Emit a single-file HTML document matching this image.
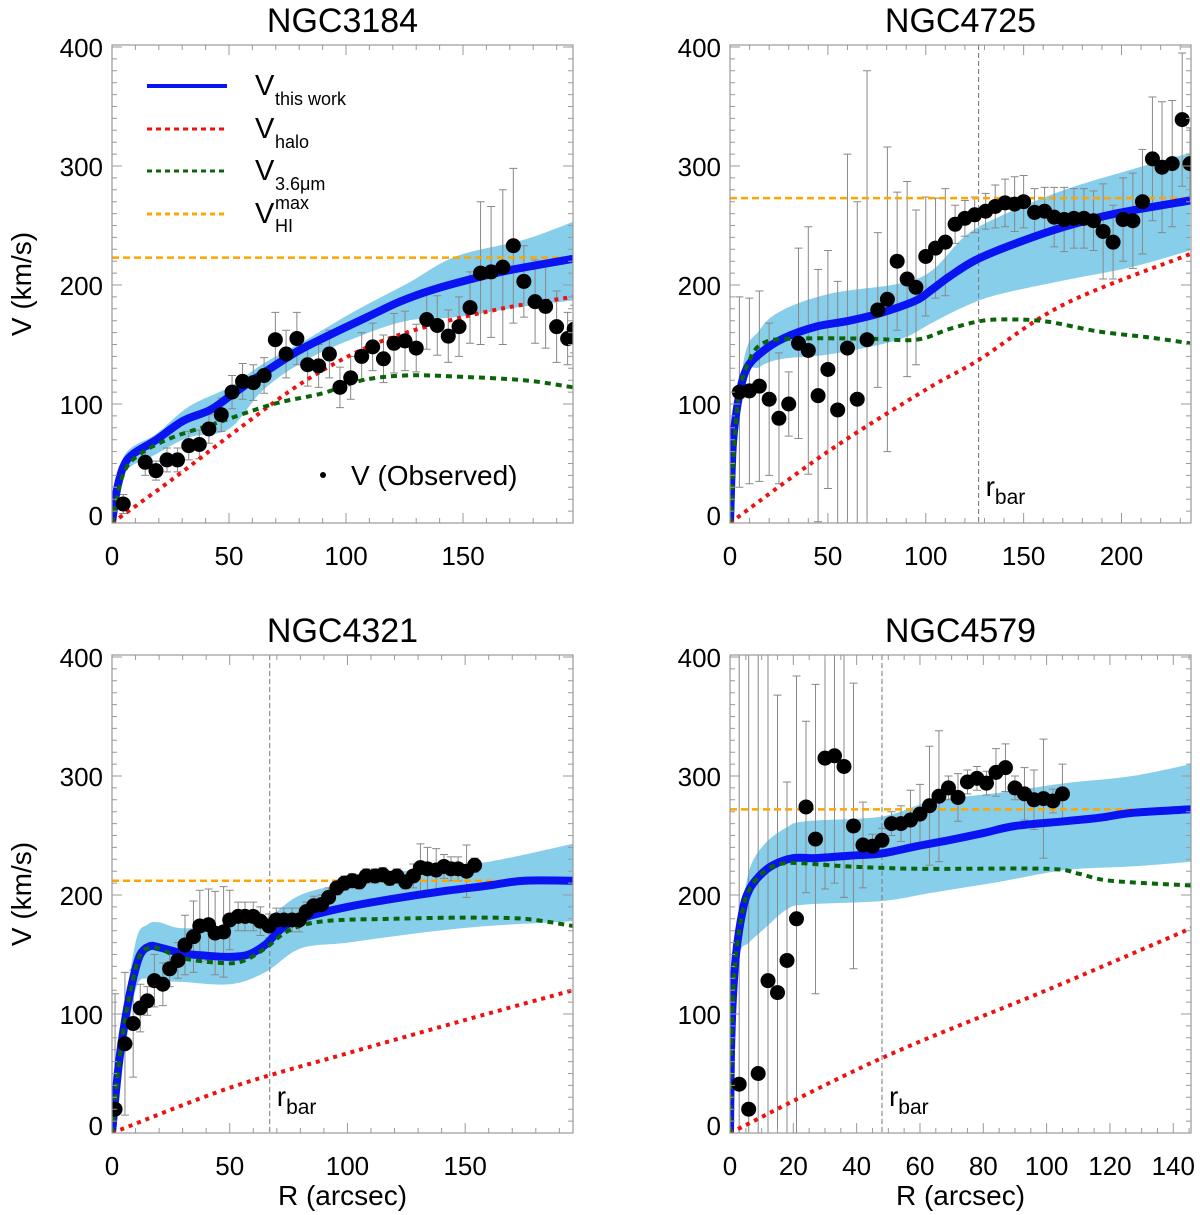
<!DOCTYPE html>
<html><head><meta charset="utf-8"><style>
html,body{margin:0;padding:0;background:#fff}
svg{display:block;font-family:"Liberation Sans",Arial,sans-serif}
</style></head><body>
<svg id="fig" width="1200" height="1215" viewBox="0 0 1200 1215" xmlns="http://www.w3.org/2000/svg"></svg>
<script>
// ---------- NGC3184 ----------
const p1R=[4.8,14.2,18.8,23.5,28,32.8,37.3,41.4,46.7,51.3,55.8,60.4,65,69.8,74.4,79,83.6,88.3,92.9,97.4,102,106.7,111.4,116,120.5,125.2,130,134.5,139,143.7,148.3,153,157.5,162,167,171.5,176,180.8,185.3,190,194.7,197.5];
const p1V=[16,51,44,53,53,65,66,79,91,110,119,118,124,154,142,155,133,132,142,114,122,140,148,138,151,153,147,171,166,157,165,181,210,211,215,233,203,186,182,165,155,163];
const p1E=[8,11,8,10,10,12,12,12,14,14,15,15,15,23,20,22,18,18,20,17,18,20,20,20,25,25,20,25,25,22,25,30,60,55,65,65,30,35,35,30,22,20];
const p1BlueR=[0,2,4.8,9,19,30.5,42,52,64.7,79,93,109,123,137,151.6,168.7,197];
const p1BlueV=[0,27,47,58,70,86,95,109,126,144,158,173,186,196,204,212,222];
const p1BandR=[0,4.8,19,33,50,64.7,83,104.6,126,147,176,197];
const p1BandHi=[0,55,75,98,114,134,154,179,201,224,238,253];
const p1BandLo=[0,41,58,72,79,112,137,156,170,173,182,187];
const p1GreenR=[0,4.8,12,26,44.7,69,90,107,126,147,176,197];
const p1GreenV=[0,41,58,72,84,100,109,120,124,123,120,114];
const p1RedR=[0,26,54.7,83,111.7,140,168.7,197];
const p1RedV=[0,37,80,120,150,168,181,190];
const p1HI=223;
// ---------- NGC4725 ----------
const p2R=[4.8,9.9,15,20,25,30,35,40,45,50,55,60,65,70,75.5,80.4,85.4,90.5,95,100,105,110,115,120,125,130.6,135.5,140.5,145.4,150,155.6,160.7,165.6,170.7,175.7,180.8,185.7,190.6,195.7,200.8,205.8,210.7,215.8,220.7,225.9,231,235];
const p2V=[110,111,115,104,88,100,151,145,107,129,95,147,104,154,179,188,220,205,198,224,231,236,251,256,259,262,266,269,268,270,261,262,257,255,256,256,254,245,236,255,254,270,306,299,302,339,302];
const p2E=[80,78,80,64,55,27,80,104,106,100,108,163,166,226,65,128,58,82,65,50,42,45,16,15,15,15,18,20,23,22,20,20,25,27,25,25,25,40,31,35,40,44,52,55,53,56,30];
const p2BlueR=[0,1.4,3.9,8,15,27,44,61,78,95,103,112,125.5,146,171,197,235];
const p2BlueV=[0,64,100,128,142,155,165,170,177,187,196,207,221,235,249,260,271];
const p2BandR=[0,6.5,15,27,52,86,103,120,137,171,205,235];
const p2BandHi=[0,131,162,179,193,201,212,241,257,280,297,311];
const p2BandLo=[0,117,131,138,142,154,168,182,192,204,215,229];
const p2GreenR=[0,3.9,10,18,35,69,95,112,129,146,163,188,214,235];
const p2GreenV=[0,100,137,152,155,155,154,163,170,171,169,161,156,151];
const p2RedR=[0,50,100,127,171,235];
const p2RedV=[0,60,112,137,184,226];
const p2HI=273;
const p2Bar=127;
// ---------- NGC4321 ----------
const p3R=[1.3,5.5,9,12,15,18,21.6,24.5,28,31,34.6,37.3,41,43.8,47.4,50,53.6,56.5,60,63,66.7,69.8,73,76.5,79.5,82.5,85.7,89,92,95.5,98.7,102,105,108,111.7,115,118,121,124.7,128,131,134,137.7,141,144,147,150.6,154];
const p3V=[20,75,92,105,111,128,125,138,145,158,165,174,175,168,169,179,182,182,182,178,174,179,179,179,179,186,191,192,198,206,210,212,211,216,216,217,214,216,211,216,223,222,221,224,222,222,220,225];
const p3E=[97,60,45,20,12,22,18,15,15,25,30,30,30,35,38,25,12,12,12,12,10,10,10,10,10,8,8,8,8,6,6,6,6,6,6,6,6,6,6,10,20,18,18,10,10,10,22,6];
const p3BlueR=[0,3,6,9,12,16,20,30,40,50,58,65,70,75,85,100,120,140,160,175,195.8];
const p3BlueV=[0,60,100,130,150,157,156,151,149,148,150,158,168,176,183,190,197,203,208,212,212];
const p3BandR=[0,4,10,15,20,30,50,65,80,100,130,160,195.8];
const p3BandHi=[0,80,160,175,177,172,175,180,200,210,222,228,243];
const p3BandLo=[0,50,120,130,128,127,125,135,155,160,168,174,178];
const p3GreenR=[0,3,6,9,12,16,20,30,45,55,65,75,90,120,150,175,195.8];
const p3GreenV=[0,60,100,130,150,156,155,147,143,144,155,170,178,180,181,180,174];
const p3RedR=[0,50,100,150,195.8];
const p3RedV=[0,38,67,95,120];
const p3HI=212;
const p3Bar=67;
// ---------- NGC4579 ----------
const p4R=[2.9,5.9,8.9,12,15,18,21,24,27,30,33,36,39,42,45,48,51,54,57,60,63,66,69,72,75,78,81,84,87,90,93,96,99,102,105];
const p4V=[41,20,50,128,118,145,180,274,247,315,317,308,258,242,241,246,260,260,263,268,275,283,290,282,295,298,294,303,307,290,285,280,281,279,285];
const p4E=[400,400,400,400,250,150,204,72,130,110,107,110,120,36,10,10,10,15,25,25,50,55,10,20,10,10,10,20,20,10,22,25,50,10,25];
const p4BlueR=[0,0.3,0.8,1.9,4,6,9.3,13.5,20,27,37.7,48,59,69,80,90,106,117,127,145.6];
const p4BlueV=[0,65,107,150,187,204,216,225,231,231,233,235,241,246,252,258,262,265,269,272];
const p4BandR=[0,0.8,3,6,11,18,24,48,64,85,106,127,145.6];
const p4BandHi=[0,136,172,220,243,257,262,266,279,286,294,300,310];
const p4BandLo=[0,100,150,160,172,188,192,195,202,211,221,224,228];
const p4GreenR=[0,0.3,0.8,1.9,4,6,9.3,13.5,20,37,60,100,110,120,145.6];
const p4GreenV=[0,65,107,150,187,204,216,224,227,224,222,222,218,212,208];
const p4RedR=[0,48,100,145.6];
const p4RedV=[0,63,120,172];
const p4HI=272;
const p4Bar=48;

const yTicks=[0,100,200,300,400];
const xTicksA=[0,50,100,150];
const xTicksB=[0,50,100,150,200];
const xTicksC=[0,20,40,60,80,100,120,140];

const NS="http://www.w3.org/2000/svg";
const svg=document.getElementById('fig');
function mk(tag,attrs,parent){const e=document.createElementNS(NS,tag);for(const k in attrs)e.setAttribute(k,attrs[k]);(parent||svg).appendChild(e);return e;}
function crPath(pts){
  if(pts.length<2)return '';
  let d='M'+pts[0][0].toFixed(1)+','+pts[0][1].toFixed(1);
  for(let i=0;i<pts.length-1;i++){
    const p0=pts[i-1]||pts[i],p1=pts[i],p2=pts[i+1],p3=pts[i+2]||p2;
    const c1=[p1[0]+(p2[0]-p0[0])/6,p1[1]+(p2[1]-p0[1])/6];
    const c2=[p2[0]-(p3[0]-p1[0])/6,p2[1]-(p3[1]-p1[1])/6];
    d+='C'+c1[0].toFixed(1)+','+c1[1].toFixed(1)+' '+c2[0].toFixed(1)+','+c2[1].toFixed(1)+' '+p2[0].toFixed(1)+','+p2[1].toFixed(1);
  }
  return d;
}

const panels=[
 {key:'ngc3184',title:'NGC3184',L:112,R:573,B:523,Y4:47,T:45,xmax:197,xt:xTicksA,minor:10,pr:p1R,pv:p1V,pe:p1E,br:p1BlueR,bv:p1BlueV,sr:p1BandR,sh:p1BandHi,sl:p1BandLo,gr:p1GreenR,gv:p1GreenV,rr:p1RedR,rv:p1RedV,hi:p1HI,bar:null,ylab:true,xlab:false},
 {key:'ngc4725',title:'NGC4725',L:730,R:1191,B:523,Y4:47,T:45,xmax:235.5,xt:xTicksB,minor:10,pr:p2R,pv:p2V,pe:p2E,br:p2BlueR,bv:p2BlueV,sr:p2BandR,sh:p2BandHi,sl:p2BandLo,gr:p2GreenR,gv:p2GreenV,rr:p2RedR,rv:p2RedV,hi:p2HI,bar:p2Bar,ylab:false,xlab:false},
 {key:'ngc4321',title:'NGC4321',L:112,R:573,B:1133,Y4:657,T:655,xmax:195.8,xt:xTicksA,minor:10,pr:p3R,pv:p3V,pe:p3E,br:p3BlueR,bv:p3BlueV,sr:p3BandR,sh:p3BandHi,sl:p3BandLo,gr:p3GreenR,gv:p3GreenV,rr:p3RedR,rv:p3RedV,hi:p3HI,bar:p3Bar,ylab:true,xlab:true},
 {key:'ngc4579',title:'NGC4579',L:730,R:1191,B:1133,Y4:657,T:655,xmax:145.6,xt:xTicksC,minor:5,pr:p4R,pv:p4V,pe:p4E,br:p4BlueR,bv:p4BlueV,sr:p4BandR,sh:p4BandHi,sl:p4BandLo,gr:p4GreenR,gv:p4GreenV,rr:p4RedR,rv:p4RedV,hi:p4HI,bar:p4Bar,ylab:false,xlab:true}
];

panels.forEach((P,pi)=>{
  const xs=v=>P.L+(P.R-P.L)*v/P.xmax;
  const ys=v=>P.B-(P.B-P.Y4)*v/400;
  const g=mk('g',{});
  
  
  const cid='clip'+pi;
  const cp=mk('clipPath',{id:cid},g);
  mk('rect',{x:P.L,y:P.T,width:P.R-P.L,height:P.B-P.T},cp);
  const t=mk('text',{x:(P.L+P.R)/2,y:P.T-13,'text-anchor':'middle','font-size':34,fill:'#000'},g);
  t.textContent=P.title;
  
  
  const plot=mk('g',{'clip-path':'url(#'+cid+')'},g);
  const up=P.sr.map((r,i)=>[xs(r),ys(P.sh[i])]);
  const lo=P.sr.map((r,i)=>[xs(r),ys(P.sl[i])]).reverse();
  const band=mk('path',{d:crPath(up)+'L'+crPath(lo).slice(1)+'Z',fill:'#87ceeb',stroke:'none'},plot);
  
  
  if(P.bar!==null){
    const bl=mk('line',{x1:xs(P.bar),x2:xs(P.bar),y1:P.T,y2:P.B,stroke:'#777','stroke-width':1,'stroke-dasharray':'5,3'},plot);
    
    
    const bt=mk('text',{x:xs(P.bar)+7,y:P.B-27,'font-size':28,fill:'#000'},g);
    
    
    bt.innerHTML='r<tspan font-size="21" dy="8">bar</tspan>';
  }
  P.pr.forEach((r,i)=>{
    const x=xs(r),y1=ys(P.pv[i]+P.pe[i]),y2=ys(Math.max(0,P.pv[i]-P.pe[i]));
    const e=mk('path',{d:'M'+x+','+y1+'V'+y2+'M'+(x-4)+','+y1+'H'+(x+4)+'M'+(x-4)+','+y2+'H'+(x+4),stroke:'#888','stroke-width':1,fill:'none'},plot);
    
    
  });
  const hl=mk('line',{x1:P.L,x2:P.R,y1:ys(P.hi),y2:ys(P.hi),stroke:'#ffa500','stroke-width':2.5,'stroke-dasharray':'7,4'},plot);
  
  
  const bp=mk('path',{d:crPath(P.br.map((r,i)=>[xs(r),ys(P.bv[i])])),stroke:'#0a14f0','stroke-width':8,fill:'none','stroke-linejoin':'round'},plot);
  
  
  const rp=mk('path',{d:crPath(P.rr.map((r,i)=>[xs(r),ys(P.rv[i])])),stroke:'#f01010','stroke-width':4,fill:'none','stroke-dasharray':'4,5'},plot);
  
  
  const gp=mk('path',{d:crPath(P.gr.map((r,i)=>[xs(r),ys(P.gv[i])])),stroke:'#0a640a','stroke-width':4,fill:'none','stroke-dasharray':'6,5'},plot);
  
  
  P.pr.forEach((r,i)=>{
    const c=mk('circle',{cx:xs(r),cy:ys(P.pv[i]),r:7.5,fill:'#000'},plot);
    
    
  });
  const fr=mk('rect',{x:P.L,y:P.T,width:P.R-P.L,height:P.B-P.T,fill:'none',stroke:'#999','stroke-width':1.2},g);
  
  
  let td='';
  for(let v=0;v<=400;v+=10){const y=ys(v);if(y<P.T)break;const len=(v%100===0)?10:5;td+='M'+P.L+','+y+'h'+len+'M'+P.R+','+y+'h'+(-len);}
  for(let v=0;v<=P.xmax;v+=P.minor){const x=xs(v);const len=(P.xt.indexOf(v)>=0)?10:5;td+='M'+x+','+P.B+'v'+(-len)+'M'+x+','+P.T+'v'+len;}
  mk('path',{d:td,stroke:'#999','stroke-width':1,fill:'none'},g);
  yTicks.forEach(v=>{
    const tl=mk('text',{x:P.L-9,y:Math.min(ys(v)+10,P.B+2),'text-anchor':'end','font-size':26,fill:'#000'},g);
    tl.textContent=v;
    
    
  });
  P.xt.forEach(v=>{
    const tl=mk('text',{x:xs(v),y:P.B+42,'text-anchor':'middle','font-size':26,fill:'#000'},g);
    tl.textContent=v;
    
    
  });
  if(P.ylab){
    const yl=mk('text',{x:0,y:0,transform:'translate(31,'+((P.T+P.B)/2)+') rotate(-90)','text-anchor':'middle','font-size':28,fill:'#000'},g);
    yl.textContent='V (km/s)';
    
    
  }
  if(P.xlab){
    const xl=mk('text',{x:(P.L+P.R)/2,y:P.B+72,'text-anchor':'middle','font-size':28,fill:'#000'},g);
    xl.textContent='R (arcsec)';
    
    
  }
});

// legend (panel 1)
const leg=mk('g',{});


const legItems=[
 {y:86,stroke:'#0a14f0',w:4,dash:'none',sub:'this work',sup:''},
 {y:129,stroke:'#f01010',w:3,dash:'5,4',sub:'halo',sup:''},
 {y:171,stroke:'#0a640a',w:3,dash:'5,4',sub:'3.6μm',sup:''},
 {y:214,stroke:'#ffa500',w:3,dash:'5,4',sub:'HI',sup:'max'}
];
legItems.forEach(it=>{
  const e=mk('g',{},leg);
  
  
  mk('line',{x1:147,x2:227,y1:it.y,y2:it.y,stroke:it.stroke,'stroke-width':it.w,'stroke-dasharray':it.dash},e);
  const v=mk('text',{x:255,y:it.y+9,'font-size':29,fill:'#000'},e);
  v.textContent='V';
  const s=mk('text',{x:275,y:it.y+(it.sup?18:19),'font-size':18,fill:'#000'},e);
  s.textContent=it.sub;
  if(it.sup){
    const u=mk('text',{x:275,y:it.y-5,'font-size':18,fill:'#000'},e);
    u.textContent=it.sup;
  }
});
const od=mk('circle',{cx:323,cy:475,r:3,fill:'#000'},leg);


const ot=mk('text',{x:351,y:485,'font-size':28,fill:'#000'},leg);
ot.textContent='V (Observed)';


</script>
</body></html>
